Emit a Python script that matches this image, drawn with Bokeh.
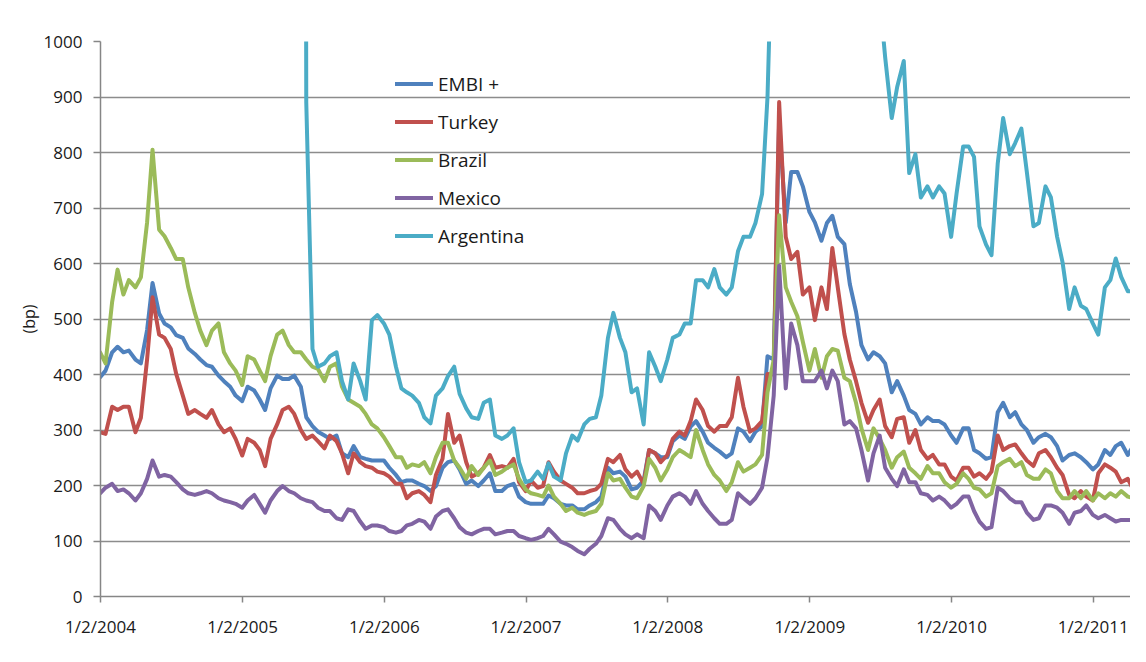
import pandas as pd
from bokeh.plotting import figure
from bokeh.models import Range1d, FixedTicker, Legend, LegendItem, Label
from bokeh.embed import file_html
from bokeh.resources import INLINE

# sampling dates: 1st and 15th of each month, Jan 2004 - May 2011
months = [(y, m) for y in range(2004, 2012) for m in range(1, 13) if (y, m) <= (2011, 5)]
dates = pd.to_datetime([f"{y}-{m:02d}-{d:02d}" for (y, m) in months for d in (1, 15)])

embi = [
    395, 407, 440, 450, 440, 443, 427, 420, 480, 565,
    510, 492, 485, 471, 466, 447, 437, 427, 417, 414,
    398, 388, 378, 362, 352, 378, 371, 355, 336, 375,
    398, 392, 392, 398, 378, 323, 307, 297, 290, 284,
    290, 258, 251, 271, 251, 248, 245, 245, 245, 232,
    219, 206, 209, 209, 203, 199, 190, 199, 232, 242,
    245, 229, 203, 209, 199, 209, 222, 190, 190, 199,
    203, 180, 170, 167, 167, 167, 182, 177, 167, 164,
    164, 157, 157, 164, 170, 180, 232, 222, 225, 216,
    193, 196, 209, 264, 258, 251, 251, 280, 290, 284,
    306, 316, 297, 277, 268, 261, 251, 258, 303, 297,
    280, 297, 307, 433, 427, 856, 674, 765, 765, 739,
    693, 674, 641, 673, 686, 648, 635, 563, 513, 453,
    427, 440, 433, 420, 368, 388, 362, 336, 329, 310,
    323, 316, 316, 310, 290, 277, 303, 303, 264, 258,
    248, 251, 332, 349, 323, 332, 310, 300, 277, 287,
    293, 287, 271, 245, 255, 258, 251, 242, 229, 238,
    264, 255, 271, 277, 255, 271, 280, 284]

turkey = [
    296, 293, 342, 336, 342, 342, 296, 322, 427, 539,
    472, 466, 446, 401, 362, 329, 336, 329, 322, 336,
    310, 296, 303, 284, 254, 284, 277, 264, 235, 284,
    310, 336, 342, 329, 300, 284, 290, 280, 267, 290,
    280, 258, 222, 258, 242, 235, 232, 225, 222, 216,
    203, 203, 177, 186, 190, 183, 170, 219, 248, 329,
    277, 290, 242, 216, 222, 232, 255, 232, 235, 232,
    248, 206, 190, 209, 196, 199, 242, 225, 209, 203,
    196, 186, 186, 190, 193, 203, 248, 242, 255, 229,
    216, 225, 203, 264, 258, 242, 255, 284, 297, 290,
    316, 355, 336, 307, 297, 307, 307, 323, 394, 342,
    297, 303, 316, 401, 400, 891, 648, 608, 621, 544,
    557, 498, 557, 518, 628, 557, 473, 427, 388, 349,
    313, 336, 355, 307, 287, 320, 323, 277, 300, 264,
    248, 255, 238, 238, 216, 209, 232, 232, 216, 222,
    212, 225, 290, 264, 271, 274, 258, 245, 235, 258,
    264, 251, 232, 219, 183, 177, 190, 180, 173, 222,
    238, 232, 225, 206, 212, 193, 209, 216]

brazil = [
    440, 420, 531, 589, 544, 570, 557, 575, 674, 805,
    661, 649, 628, 608, 608, 557, 511, 479, 453, 479,
    492, 440, 420, 407, 381, 433, 427, 407, 388, 433,
    472, 479, 453, 440, 440, 427, 414, 410, 388, 414,
    420, 378, 355, 349, 342, 329, 310, 303, 287, 271,
    251, 251, 232, 238, 235, 242, 222, 251, 277, 277,
    245, 232, 212, 235, 219, 232, 245, 219, 225, 232,
    238, 212, 193, 186, 183, 180, 200, 180, 167, 154,
    160, 151, 147, 151, 154, 167, 222, 209, 212, 196,
    180, 177, 199, 248, 232, 209, 229, 251, 264, 258,
    251, 300, 264, 238, 219, 209, 190, 206, 242, 225,
    232, 238, 255, 368, 427, 687, 557, 531, 505, 459,
    407, 446, 394, 433, 446, 443, 394, 388, 349, 303,
    264, 303, 284, 264, 232, 251, 261, 232, 222, 212,
    235, 222, 222, 206, 196, 203, 222, 212, 196, 193,
    180, 186, 235, 242, 248, 235, 242, 219, 212, 212,
    229, 222, 190, 177, 177, 190, 177, 190, 173, 186,
    177, 186, 180, 190, 180, 177, 177, 170]

mexico = [
    186, 196, 203, 190, 193, 186, 173, 186, 212, 245,
    216, 219, 216, 206, 193, 186, 183, 186, 190, 186,
    177, 173, 170, 167, 160, 173, 183, 167, 151, 173,
    190, 199, 190, 186, 177, 173, 170, 160, 154, 154,
    141, 138, 157, 154, 135, 122, 128, 128, 125, 118,
    115, 118, 128, 131, 138, 135, 122, 144, 154, 157,
    141, 125, 115, 112, 118, 122, 122, 112, 115, 118,
    118, 109, 105, 102, 105, 109, 122, 112, 99, 95,
    89, 82, 76, 86, 95, 109, 141, 138, 122, 112,
    105, 112, 105, 164, 154, 138, 164, 180, 186, 180,
    167, 190, 167, 154, 141, 131, 131, 138, 186, 177,
    167, 177, 196, 251, 362, 596, 375, 492, 453, 388,
    388, 388, 407, 375, 407, 388, 310, 316, 303, 264,
    209, 258, 290, 232, 212, 199, 229, 206, 206, 186,
    183, 173, 180, 173, 160, 167, 180, 180, 154, 135,
    122, 125, 196, 190, 177, 170, 170, 151, 138, 141,
    164, 164, 160, 151, 131, 151, 154, 164, 147, 141,
    147, 141, 135, 138, 138, 138, 141, 141]

# values above 1000 are off the chart in the original and are estimates
argentina = [
    5200, 5300, 5400, 5600, 5700, 5500, 5400, 5600, 5800, 6000,
    5900, 5800, 5700, 5600, 5500, 5400, 5300, 5400, 5500, 5600,
    5700, 5800, 5600, 5500, 5400, 5600, 5700, 5800, 5900, 6000,
    6100, 6000, 5900, 5800, 6000, 890, 446, 414, 420, 433,
    440, 388, 355, 420, 388, 355, 498, 507, 492, 472,
    414, 375, 368, 362, 349, 323, 312, 362, 375, 397,
    414, 365, 339, 323, 320, 349, 355, 290, 284, 290,
    303, 242, 206, 209, 225, 212, 240, 216, 209, 258,
    290, 281, 310, 320, 323, 362, 466, 511, 466, 440,
    368, 375, 310, 440, 414, 388, 427, 466, 472, 492,
    492, 570, 570, 557, 590, 557, 544, 557, 622, 648,
    648, 673, 725, 900, 1300, 1650, 1750, 1850, 1900, 1750,
    1650, 1700, 1650, 1700, 1750, 1600, 1500, 1400, 1300, 1250,
    1150, 1100, 1080, 972, 862, 918, 965, 763, 797, 719,
    739, 719, 739, 726, 648, 726, 811, 811, 792, 667,
    634, 615, 780, 862, 797, 817, 843, 765, 667, 673,
    739, 719, 648, 602, 518, 557, 524, 518, 492, 472,
    557, 570, 609, 576, 550, 550, 570, 590]

series_names = ["EMBI +", "Turkey", "Brazil", "Mexico", "Argentina"]
series_values = [embi, turkey, brazil, mexico, argentina]
series_colors = ["#4F81BD", "#C0504D", "#9BBB59", "#8064A2", "#4BACC6"]

tick_dates = ["2004-01-02", "2005-01-02", "2006-01-02", "2007-01-02",
              "2008-01-02", "2009-01-02", "2010-01-02", "2011-01-02"]
tick_labels = ["1/2/2004", "1/2/2005", "1/2/2006", "1/2/2007",
               "1/2/2008", "1/2/2009", "1/2/2010", "1/2/2011"]
y_ticks = list(range(0, 1001, 100))

x_start = pd.Timestamp("2004-01-02")
x_end = pd.Timestamp("2011-04-08")

p = figure(width=1130, height=646, x_axis_type="datetime",
           output_backend="svg", toolbar_location=None,
           x_range=Range1d(x_start, x_end), y_range=Range1d(0, 1000),
           min_border_left=100, min_border_right=0,
           min_border_top=41, min_border_bottom=50)
p.outline_line_color = None
p.background_fill_color = "white"
p.border_fill_color = "white"

# outer chart-area frame (only its top and left edges fall inside the canvas)
p.add_layout(Label(x=8, y=9, x_units="canvas", y_units="canvas", text=" ",
                   anchor="top_left",
                   padding=dict(left=0, right=3000, top=0, bottom=3000),
                   border_line_color="#9a9a9a", border_line_width=1,
                   background_fill_color=None, text_font_size="1px"))

renderers = []
for name, vals, col in zip(series_names, series_values, series_colors):
    r = p.line(dates, vals, line_color=col, line_width=4,
               line_join="round", line_cap="round")
    renderers.append(r)

p.xgrid.visible = False
p.ygrid.grid_line_color = "#8c8c8c"
p.ygrid.grid_line_width = 1.5

axis_col = "#868686"
for ax in (p.xaxis[0], p.yaxis[0]):
    ax.axis_line_color = axis_col
    ax.axis_line_width = 1.5
    ax.major_tick_line_color = axis_col
    ax.major_tick_line_width = 1.5
    ax.major_tick_in = 0
    ax.minor_tick_in = 0
    ax.minor_tick_out = 0
    ax.major_label_text_font = "Open Sans"
    ax.major_label_text_font_size = "17px"
    ax.major_label_text_color = "#1a1a1a"

p.yaxis.ticker = FixedTicker(ticks=y_ticks)
p.yaxis.major_tick_out = 7
p.yaxis.major_label_standoff = 11
p.yaxis.axis_label = "(bp)"
p.yaxis.axis_label_text_font = "Open Sans"
p.yaxis.axis_label_text_font_size = "16px"
p.yaxis.axis_label_text_font_style = "normal"
p.yaxis.axis_label_text_color = "#1a1a1a"
p.yaxis.axis_label_standoff = 1

tick_ms = [int(pd.Timestamp(d).value // 10**6) for d in tick_dates]
p.xaxis.ticker = FixedTicker(ticks=tick_ms)
p.xaxis.major_label_overrides = {t: lab for t, lab in zip(tick_ms, tick_labels)}
p.xaxis.major_tick_out = 6
p.xaxis.major_label_standoff = 12

legend = Legend(
    items=[LegendItem(label=n, renderers=[r]) for n, r in zip(series_names, renderers)],
    location=(295, 347), padding=0, spacing=11, margin=0,
    glyph_width=38, glyph_height=27, label_height=27, label_standoff=5,
    border_line_color=None, background_fill_alpha=0,
    label_text_font="Open Sans", label_text_font_size="19px",
    label_text_color="#1a1a1a")
p.add_layout(legend)

open("out.html", "w").write(file_html(p, INLINE))
